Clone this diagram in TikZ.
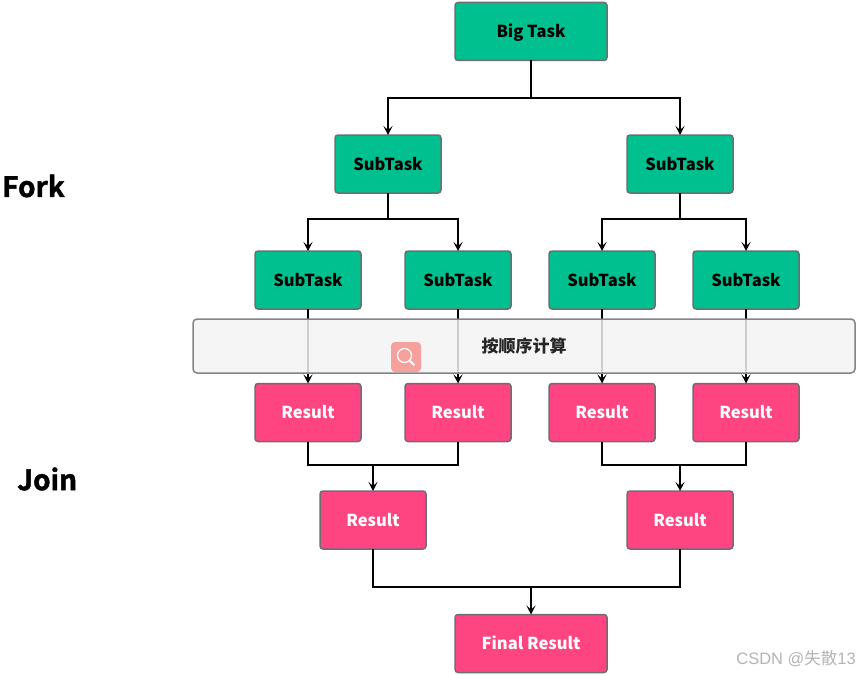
\documentclass[tikz,border=0pt]{standalone}
\usepackage{fontspec}
\setmainfont{Noto Sans CJK SC}
\newfontfamily\heavyfont[FakeBold=1.6]{Noto Sans CJK SC Bold}
\newfontfamily\markfont{Liberation Sans}
\newfontfamily\cjkfont{Noto Sans CJK SC}
\usetikzlibrary{arrows.meta}
\definecolor{tgreen}{HTML}{00C08F}
\definecolor{tpink}{HTML}{FF4581}
\definecolor{tborder}{HTML}{6E6E72}
\definecolor{tband}{HTML}{F3F3F3}
\definecolor{ticon}{HTML}{F5A19E}
\definecolor{twater}{HTML}{B4B4B4}
\tikzset{
  box/.style={draw=tborder,line width=1.5pt,rounded corners=3pt,outer sep=0pt,inner sep=0pt,minimum height=58pt,text height=16pt,text depth=4pt,font=\fontsize{16.5}{19}\selectfont\bfseries},
  taskbox/.style={box,fill=tgreen,text=black},
  resbox/.style={box,fill=tpink,text=white},
  narrow/.style={minimum width=106pt},
  wide/.style={minimum width=152pt},
  link/.style={draw=black,line width=1.5pt},
  arr/.style={link,-{Stealth[length=9pt,width=9pt,inset=4pt]}},
  side/.style={font=\heavyfont\fontsize{28}{30}\selectfont,text=black,inner sep=0pt},
}
\begin{document}
\begin{tikzpicture}[x=1pt,y=-1pt]
\useasboundingbox (0,0) rectangle (858,674);
\node[taskbox,wide] (big) at (531,31.5) {Big Task};
\node[taskbox,narrow] (sa) at (388,164) {SubTask};
\node[taskbox,narrow] (sb) at (680,164) {SubTask};
\node[taskbox,narrow] (t1) at (308,280) {SubTask};
\node[taskbox,narrow] (t2) at (458,280) {SubTask};
\node[taskbox,narrow] (t3) at (602,280) {SubTask};
\node[taskbox,narrow] (t4) at (746,280) {SubTask};
\node[resbox,narrow] (r1) at (308,412.5) {Result};
\node[resbox,narrow] (r2) at (458,412.5) {Result};
\node[resbox,narrow] (r3) at (602,412.5) {Result};
\node[resbox,narrow] (r4) at (746,412.5) {Result};
\node[resbox,narrow] (ra) at (373,520) {Result};
\node[resbox,narrow] (rb) at (680,520) {Result};
\node[resbox,wide] (fin) at (531,643.5) {Final Result};
\coordinate (b0) at (531,98);
\coordinate (b1) at (388,219);
\coordinate (b2) at (680,219);
\coordinate (j1) at (373,465);
\coordinate (j2) at (680,465);
\coordinate (j3) at (531,587);
\draw[link] (big.south) -- (b0);
\draw[arr] (b0) -| (sa.north);
\draw[arr] (b0) -| (sb.north);
\draw[link] (sa.south) -- (b1);
\draw[arr] (b1) -| (t1.north);
\draw[arr] (b1) -| (t2.north);
\draw[link] (sb.south) -- (b2);
\draw[arr] (b2) -| (t3.north);
\draw[arr] (b2) -| (t4.north);
\draw[arr] (t1.south) -- (r1.north);
\draw[arr] (t2.south) -- (r2.north);
\draw[arr] (t3.south) -- (r3.north);
\draw[arr] (t4.south) -- (r4.north);
\draw[link] (r1.south) |- (j1);
\draw[link] (r2.south) |- (j1);
\draw[arr] (j1) -- (ra.north);
\draw[link] (r3.south) |- (j2);
\draw[link] (r4.south) |- (j2);
\draw[arr] (j2) -- (rb.north);
\draw[link] (ra.south) |- (j3);
\draw[link] (rb.south) |- (j3);
\draw[arr] (j3) -- (fin.north);
\node[draw=tborder!85,line width=1.5pt,fill=tband,fill opacity=.85,text opacity=1,rounded corners=4pt,minimum width=662pt,minimum height=54pt,inner sep=0pt,outer sep=0pt,font=\fontsize{17}{19}\selectfont\bfseries,text=black!85] (band) at (524,346) {按顺序计算};
\fill[ticon,rounded corners=4pt] (391,342) rectangle (421,372);
\draw[white,line width=1.2pt] (404.5,355.5) circle (7pt);
\draw[white,line width=2pt,line cap=round] (410,361) -- (414,365);
\node[side,anchor=west] (fork) at (2,186) {Fork};
\node[side,anchor=west] (join) at (17,479) {Join};
\node[anchor=east,inner sep=0pt,text=twater,font=\fontsize{16.5}{18}\selectfont] (mark) at (856,659) {\markfont CSDN @{\cjkfont 失散}13};
\end{tikzpicture}
\end{document}
